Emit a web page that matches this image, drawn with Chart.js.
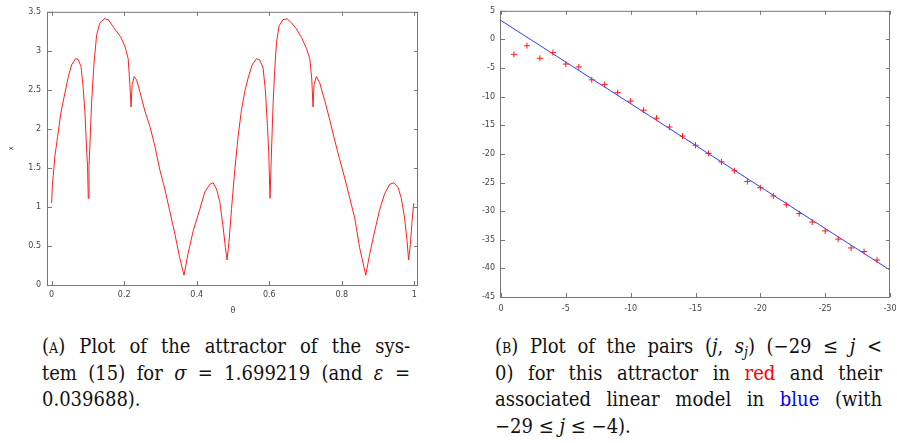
<!DOCTYPE html>
<html lang="en">
<head>
  <meta charset="UTF-8">
  <title>Attractor and linear model</title>
  <script src="https://cdn.jsdelivr.net/npm/chart.js"></script>
  <style>
    body {
      margin: 0;
      background: #fff;
      width: 897px;
      height: 443px;
      overflow: hidden;
      position: relative;
    }
    canvas { position: absolute; top: 0; }
    #leftChart { left: 0; }
    #rightChart { left: 450px; }
    .cap {
      position: absolute;
      font-family: "DejaVu Serif Condensed", "DejaVu Serif", serif;
      font-stretch: condensed;
      font-size: 20px;
      line-height: 26.5px;
      color: #111;
    }
    .cap .j { text-align: justify; text-align-last: justify; }
    .sc { font-variant: small-caps; }
    sub { font-size: 0.7em; line-height: 0; vertical-align: -0.25em; }
  </style>
</head>
<body>
  <canvas id="leftChart" width="430" height="320"></canvas>
  <canvas id="rightChart" width="447" height="320"></canvas>

  <div class="cap" style="left:42px; top:333px; width:368px">
    <div class="j">(<span class="sc">a</span>) Plot of the attractor of the sys-</div>
    <div class="j">tem (15) for <i>σ</i> = 1.699219 (and <i>ε</i> =</div>
    <div>0.039688).</div>
  </div>

  <div class="cap" style="left:495px; top:333px; width:387px">
    <div class="j">(<span class="sc">b</span>) Plot of the pairs (<i>j</i>, <i>s<sub>j</sub></i>) (−29 ≤ <i>j</i> &lt;</div>
    <div class="j">0) for this attractor in <span style="color:#f00">red</span> and their</div>
    <div class="j">associated linear model in <span style="color:#00f">blue</span> (with</div>
    <div>−29 ≤ <i>j</i> ≤ −4).</div>
  </div>

  <script>
    // (A) attractor: theta -> x
    const theta = [0, 0.002, 0.009, 0.0165, 0.025, 0.034, 0.046, 0.055, 0.066, 0.073,
      0.081, 0.087, 0.092, 0.096, 0.099, 0.101, 0.103, 0.1055, 0.110, 0.1165,
      0.124, 0.133, 0.145, 0.156, 0.174, 0.190, 0.202, 0.211, 0.2157, 0.219,
      0.222, 0.2276, 0.234, 0.243, 0.257, 0.271, 0.2846, 0.298, 0.312, 0.326,
      0.340, 0.353, 0.365, 0.376, 0.390, 0.4085, 0.422, 0.436, 0.445, 0.4545,
      0.4636, 0.473, 0.479, 0.4837, 0.489, 0.496, 0.505, 0.514, 0.523, 0.5325,
      0.5416, 0.5526, 0.5647, 0.574, 0.583, 0.5895, 0.595, 0.5986, 0.602, 0.606,
      0.6105, 0.615, 0.620, 0.627, 0.638, 0.649, 0.661, 0.675, 0.689, 0.7025,
      0.7116, 0.717, 0.7207, 0.7234, 0.730, 0.739, 0.753, 0.767, 0.780, 0.794,
      0.808, 0.822, 0.8355, 0.849, 0.866, 0.877, 0.8906, 0.904, 0.918, 0.932,
      0.943, 0.955, 0.964, 0.973, 0.980, 0.984, 0.989, 0.9935, 0.998, 1.0];
    const xState = [1.05, 1.27, 1.65, 1.90, 2.19, 2.40, 2.67, 2.82, 2.90, 2.89,
      2.80, 2.53, 2.19, 1.78, 1.52, 1.11, 1.53, 1.78, 2.32, 2.82,
      3.20, 3.36, 3.41, 3.40, 3.28, 3.18, 3.06, 2.90, 2.57, 2.28,
      2.57, 2.67, 2.63, 2.48, 2.23, 2.03, 1.78, 1.48, 1.23, 0.94,
      0.65, 0.35, 0.125, 0.40, 0.69, 0.97, 1.19, 1.29, 1.31, 1.23,
      1.07, 0.73, 0.48, 0.32, 0.56, 0.98, 1.48, 1.90, 2.23, 2.48,
      2.65, 2.82, 2.90, 2.88, 2.78, 2.48, 2.03, 1.69, 1.11, 1.69,
      2.32, 2.75, 3.11, 3.32, 3.40, 3.41, 3.36, 3.28, 3.17, 3.03,
      2.90, 2.65, 2.28, 2.57, 2.67, 2.59, 2.36, 2.11, 1.86, 1.61,
      1.37, 1.11, 0.86, 0.48, 0.125, 0.40, 0.69, 0.96, 1.17, 1.29,
      1.31, 1.25, 1.11, 0.86, 0.56, 0.32, 0.52, 0.81, 1.04, 1.05];
    const thetaTicks = [0, 0.2, 0.4, 0.6, 0.8, 1];
    const xTicks = [0, 0.5, 1, 1.5, 2, 2.5, 3, 3.5];

    // (B) pairs (j, s_j) and the fitted line
    const jVals = [-1, -2, -3, -4, -5, -6, -7, -8, -9, -10, -11, -12, -13, -14, -15,
      -16, -17, -18, -19, -20, -21, -22, -23, -24, -25, -26, -27, -28, -29];
    const sVals = [-2.6, -1.1, -3.3, -2.3, -4.3, -4.8, -7.06, -7.86, -9.29, -10.77,
      -12.37, -13.74, -15.3, -16.89, -18.49, -19.91, -21.4, -22.94, -24.83, -25.91,
      -27.34, -28.89, -30.43, -31.91, -33.46, -34.89, -36.43, -37.06, -38.54];
    const fitJ = [0, -30];
    const fitS = [3.3, -40.3];
    const jTicks = [-30, -25, -20, -15, -10, -5, 0];
    const sTicks = [-45, -40, -35, -30, -25, -20, -15, -10, -5, 0, 5];

    const tickFont = { family: 'DejaVu Sans', size: 8 };
    const tickColor = '#444';

    // gnuplot-like frame with inward ticks on all four sides
    const frameTicks = {
      id: 'frameTicks',
      afterDraw(chart) {
        const { ctx, chartArea: a, scales } = chart;
        const len = 4;
        ctx.save();
        ctx.strokeStyle = '#777';
        ctx.lineWidth = 1;
        ctx.strokeRect(a.left - 0.5, a.top + 0.5, a.right - a.left, a.bottom - a.top);
        ctx.beginPath();
        scales.x.ticks.forEach(t => {
          const px = Math.round(scales.x.getPixelForValue(t.value)) + 0.5;
          ctx.moveTo(px, a.bottom); ctx.lineTo(px, a.bottom - len);
          ctx.moveTo(px, a.top); ctx.lineTo(px, a.top + len);
        });
        scales.y.ticks.forEach(t => {
          const py = Math.round(scales.y.getPixelForValue(t.value)) + 0.5;
          ctx.moveTo(a.left, py); ctx.lineTo(a.left + len, py);
          ctx.moveTo(a.right, py); ctx.lineTo(a.right - len, py);
        });
        ctx.stroke();
        ctx.restore();
      }
    };

    function axis(extra) {
      return Object.assign({
        type: 'linear',
        grid: { display: false, drawTicks: false },
        border: { display: false },
        ticks: { font: tickFont, color: tickColor, callback: v => String(v) }
      }, extra);
    }

    new Chart(document.getElementById('leftChart'), {
      type: 'line',
      data: {
        datasets: [{
          data: theta.map((t, i) => ({ x: t, y: xState[i] })),
          borderColor: '#ff2020',
          borderWidth: 1,
          pointRadius: 0,
          tension: 0,
          fill: false
        }]
      },
      options: {
        responsive: false,
        animation: false,
        layout: { padding: { left: 0, top: 5, right: 12, bottom: 0 } },
        plugins: { legend: { display: false }, tooltip: { enabled: false } },
        scales: {
          x: axis({
            min: -0.01, max: 1.01,
            afterBuildTicks: s => { s.ticks = thetaTicks.map(v => ({ value: v })); },
            afterFit: s => { s.height = 35; },
            ticks: { font: tickFont, color: tickColor, padding: 5, maxRotation: 0, callback: v => String(v) },
            title: { display: true, text: 'θ', font: { family: 'DejaVu Sans', size: 8 }, color: '#444', padding: { top: 0, bottom: 4 } }
          }),
          y: axis({
            min: 0, max: 3.5,
            afterBuildTicks: s => { s.ticks = xTicks.map(v => ({ value: v })); },
            afterFit: s => { s.width = 48; },
            ticks: { font: tickFont, color: tickColor, padding: 7, callback: v => String(v) },
            title: { display: true, text: 'x', font: { family: 'DejaVu Sans', size: 7 }, color: '#444', padding: { top: 7, bottom: 0 } }
          })
        }
      },
      plugins: [frameTicks]
    });

    new Chart(document.getElementById('rightChart'), {
      type: 'scatter',
      data: {
        datasets: [{
          type: 'line',
          data: fitJ.map((j, i) => ({ x: j, y: fitS[i] })),
          borderColor: '#3a3aff',
          borderWidth: 1,
          pointRadius: 0,
          fill: false,
          order: 2
        }, {
          data: jVals.map((j, i) => ({ x: j, y: sVals[i] })),
          pointStyle: 'cross',
          pointRadius: 3,
          borderColor: '#ff1a1a',
          backgroundColor: '#ff1a1a',
          borderWidth: 1,
          order: 1
        }]
      },
      options: {
        responsive: false,
        animation: false,
        layout: { padding: { left: 0, top: 5, right: 7, bottom: 0 } },
        plugins: { legend: { display: false }, tooltip: { enabled: false } },
        scales: {
          x: axis({
            min: -30, max: 0, reverse: true,
            afterBuildTicks: s => { s.ticks = jTicks.map(v => ({ value: v })); },
            afterFit: s => { s.height = 23; },
            ticks: { font: tickFont, color: tickColor, padding: 7, maxRotation: 0, callback: v => String(v) }
          }),
          y: axis({
            min: -45, max: 5,
            afterBuildTicks: s => { s.ticks = sTicks.map(v => ({ value: v })); },
            afterFit: s => { s.width = 51; },
            ticks: { font: tickFont, color: tickColor, padding: 6, callback: v => String(v) }
          })
        }
      },
      plugins: [frameTicks]
    });
  </script>
</body>
</html>
